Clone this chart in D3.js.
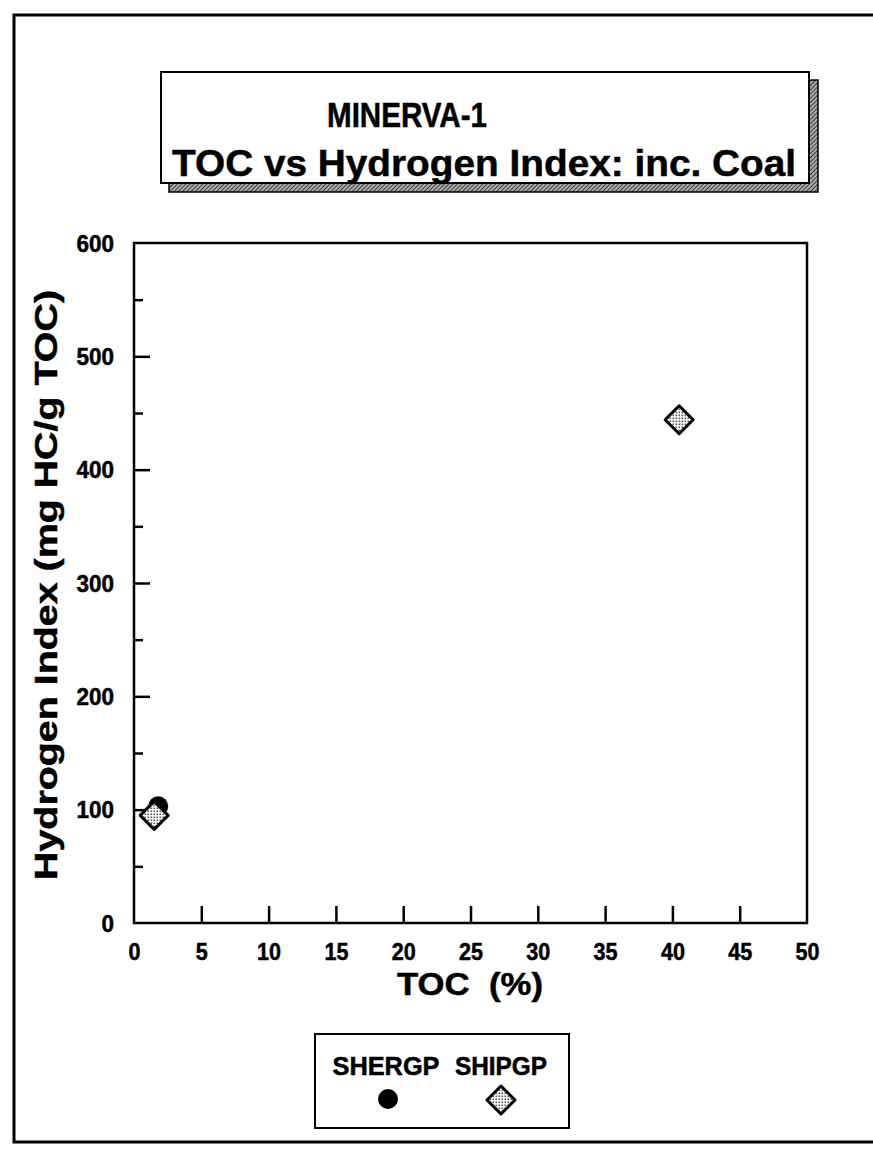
<!DOCTYPE html>
<html><head><meta charset="utf-8">
<script src="https://cdn.jsdelivr.net/npm/d3@7"></script>
<style>body{margin:0;background:#fff}svg{display:block}text{font-family:"Liberation Sans",Arial,sans-serif;font-weight:bold;fill:#000;stroke:#000;stroke-width:0.5px;white-space:pre}</style>
</head><body>
<script>
const titleLines = ["MINERVA-1", "TOC vs Hydrogen Index: inc. Coal"];
const seriesNames = ["SHERGP", "SHIPGP"];
const shergpTOC = [1.8];
const shergpHI = [103];
const shipgpTOC = [1.5, 40.5];
const shipgpHI = [95, 444];
const xTicks = [0, 5, 10, 15, 20, 25, 30, 35, 40, 45, 50];
const yTicks = [0, 100, 200, 300, 400, 500, 600];
const yMinorTicks = [50, 150, 250, 350, 450, 550];
const xTitle = "TOC  (%)";
const yTitle = "Hydrogen Index (mg HC/g TOC)";

const W = 873, H = 1150;
const svg = d3.select("body").append("svg").attr("width", W).attr("height", H);
const defs = svg.append("defs");
// stipple pattern for diamonds
const dots = defs.append("pattern").attr("id","dots").attr("patternUnits","userSpaceOnUse").attr("width",3).attr("height",3);
dots.append("rect").attr("width",3).attr("height",3).attr("fill","#fff");
dots.append("rect").attr("x",0.5).attr("y",0.5).attr("width",1.6).attr("height",1.6).attr("fill","#555");
// hatched pattern for title shadow
const hatch = defs.append("pattern").attr("id","hatch").attr("patternUnits","userSpaceOnUse").attr("width",3).attr("height",3).attr("patternTransform","rotate(45)");
hatch.append("rect").attr("width",3).attr("height",3).attr("fill","#aaa");
hatch.append("line").attr("x1",0).attr("y1",0).attr("x2",0).attr("y2",3).attr("stroke","#111").attr("stroke-width",1.4);

// outer frame
svg.append("path").attr("d","M873,15 H14 V1142 H873").attr("fill","none").attr("stroke","#000").attr("stroke-width",3);

// title box with shadow
svg.append("path").attr("d","M169,183 H809 V80 H818 V192 H169 Z").attr("fill","url(#hatch)").attr("stroke","#000").attr("stroke-width",1.5);
svg.append("rect").attr("x",161).attr("y",72).attr("width",648).attr("height",111).attr("fill","#fff").attr("stroke","#000").attr("stroke-width",2);
svg.append("text").attr("x",407).attr("y",127).attr("text-anchor","middle").attr("font-size",35)
  .attr("textLength",160).attr("lengthAdjust","spacingAndGlyphs").text(titleLines[0]);
svg.append("text").attr("x",484).attr("y",176).attr("text-anchor","middle").attr("font-size",37)
  .attr("textLength",624).attr("lengthAdjust","spacingAndGlyphs").text(titleLines[1]);

// plot
const pLeft = 134, pRight = 807, pTop = 243, pBottom = 923;
const x = d3.scaleLinear().domain([0, 50]).range([pLeft, pRight]);
const y = d3.scaleLinear().domain([0, 600]).range([pBottom, pTop]);

svg.append("rect").attr("x",pLeft).attr("y",pTop).attr("width",pRight-pLeft).attr("height",pBottom-pTop)
  .attr("fill","none").attr("stroke","#000").attr("stroke-width",2.5);

// x axis ticks (inward)
const xAxis = d3.axisBottom(x).tickValues(xTicks).tickSize(-17).tickPadding(20).tickFormat(d3.format("d"));
const gx = svg.append("g").attr("transform",`translate(0,${pBottom})`).call(xAxis);
gx.select(".domain").remove();
gx.selectAll(".tick line").attr("stroke","#000").attr("stroke-width",2.5)
  .filter(d => d === 0 || d === 50).remove();
gx.selectAll(".tick text").attr("font-size",24).attr("font-family","'Liberation Sans',Arial,sans-serif").attr("font-weight","bold").attr("fill","#000")
  .attr("textLength", d => String(d).length * 12).attr("lengthAdjust","spacingAndGlyphs");

// y axis
const yAxis = d3.axisLeft(y).tickValues(yTicks).tickSize(-16).tickPadding(20).tickFormat(d3.format("d"));
const gy = svg.append("g").attr("transform",`translate(${pLeft},0)`).call(yAxis);
gy.select(".domain").remove();
gy.selectAll(".tick line").attr("stroke","#000").attr("stroke-width",2.5)
  .filter(d => d === 0 || d === 600).remove();
gy.selectAll(".tick text").attr("font-size",23).attr("font-family","'Liberation Sans',Arial,sans-serif").attr("font-weight","bold").attr("fill","#000").attr("dy","0.35em")
  .attr("textLength", d => String(d).length * 12.5).attr("lengthAdjust","spacingAndGlyphs");
const yMinor = d3.axisLeft(y).tickValues(yMinorTicks).tickSize(-9).tickFormat("");
const gym = svg.append("g").attr("transform",`translate(${pLeft},0)`).call(yMinor);
gym.select(".domain").remove();
gym.selectAll(".tick line").attr("stroke","#000").attr("stroke-width",2.5);

// axis titles
svg.append("text").attr("x",470).attr("y",995).attr("text-anchor","middle").attr("font-size",32)
  .attr("textLength",146).attr("lengthAdjust","spacingAndGlyphs").text(xTitle);
svg.append("text").attr("transform","translate(57,585) rotate(-90)").attr("text-anchor","middle").attr("font-size",32)
  .attr("textLength",590).attr("lengthAdjust","spacingAndGlyphs").text(yTitle);

// data
const diamond = (cx, cy, r) => `M${cx},${cy-r} L${cx+r},${cy} L${cx},${cy+r} L${cx-r},${cy} Z`;
svg.append("g").selectAll("circle").data(shergpTOC.map((t,i)=>({t, h: shergpHI[i]}))).join("circle")
  .attr("cx", d => x(d.t)).attr("cy", d => y(d.h)).attr("r", 10).attr("fill","#000");
svg.append("g").selectAll("path").data(shipgpTOC.map((t,i)=>({t, h: shipgpHI[i]}))).join("path")
  .attr("d", d => diamond(x(d.t), y(d.h), 14)).attr("fill","url(#dots)").attr("stroke","#000").attr("stroke-width",3).attr("stroke-linejoin","round");

// legend
svg.append("rect").attr("x",315).attr("y",1034).attr("width",254).attr("height",94).attr("fill","#fff").attr("stroke","#000").attr("stroke-width",2);
svg.append("text").attr("x",386).attr("y",1075).attr("text-anchor","middle").attr("font-size",25)
  .attr("textLength",107).attr("lengthAdjust","spacingAndGlyphs").text(seriesNames[0]);
svg.append("text").attr("x",501).attr("y",1075).attr("text-anchor","middle").attr("font-size",25)
  .attr("textLength",92).attr("lengthAdjust","spacingAndGlyphs").text(seriesNames[1]);
svg.append("circle").attr("cx",388).attr("cy",1099).attr("r",10).attr("fill","#000");
svg.append("path").attr("d", diamond(501, 1100, 14)).attr("fill","url(#dots)").attr("stroke","#000").attr("stroke-width",3).attr("stroke-linejoin","round");
</script>
</body></html>
